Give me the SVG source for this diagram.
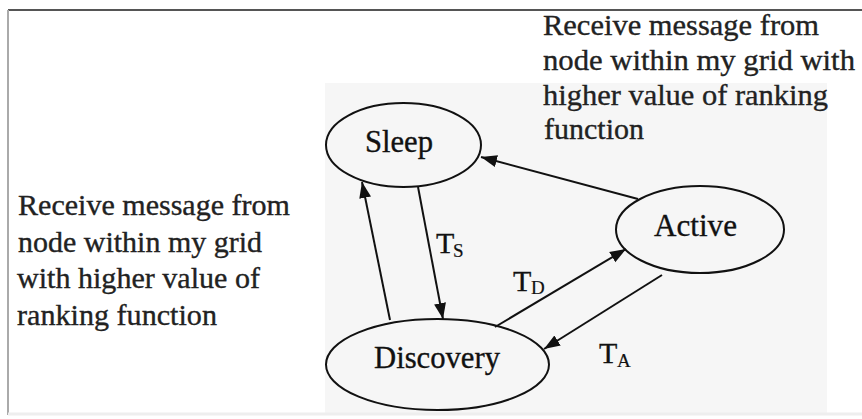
<svg xmlns="http://www.w3.org/2000/svg" width="862" height="419" viewBox="0 0 862 419">
  <defs>
    <marker id="arrow" markerUnits="userSpaceOnUse" markerWidth="17" markerHeight="13" refX="16" refY="6.5" orient="auto">
      <path d="M0,0.5 L16,6.5 L0,12.5 z" fill="#111"/>
    </marker>
  </defs>
  <style>
    .node { fill: none; stroke: #111; stroke-width: 2; }
    .label { font-family: "Liberation Serif", "Times New Roman", serif; font-size: 31px; fill: #111; stroke: #111; stroke-width: 0.35; text-anchor: middle; }
    .note { font-family: "Liberation Serif", "Times New Roman", serif; font-size: 30px; fill: #222; stroke: #222; stroke-width: 0.35; }
    .t { font-family: "Liberation Serif", "Times New Roman", serif; font-size: 30px; fill: #111; stroke: #111; stroke-width: 0.3; }
    .sub { font-family: "Liberation Serif", "Times New Roman", serif; font-size: 19px; fill: #111; stroke: #111; stroke-width: 0.2; }
    .edge { stroke: #111; stroke-width: 2; fill: none; marker-end: url(#arrow); }
  </style>
  <rect x="0" y="0" width="862" height="419" fill="#ffffff"/>
  <rect x="325" y="83" width="502" height="330" fill="#f6f6f6"/>
  <line x1="8" y1="10" x2="862" y2="10" stroke="#555" stroke-width="2"/>
  <line x1="8" y1="10" x2="8" y2="415" stroke="#aaa" stroke-width="2"/>
  <line x1="8" y1="414" x2="862" y2="414" stroke="#eeeeee" stroke-width="3"/>

  <g id="connectors">
    <line class="edge" x1="390" y1="320" x2="362" y2="182"/>
    <line class="edge" x1="418" y1="187" x2="443" y2="319"/>
    <line class="edge" x1="495" y1="327" x2="626" y2="249"/>
    <line class="edge" x1="662" y1="275" x2="544" y2="349"/>
    <line class="edge" x1="638" y1="199" x2="481" y2="157"/>
  </g>

  <g id="sleep">
    <ellipse class="node" cx="403.5" cy="145" rx="77.5" ry="42"/>
    <text class="label" x="399" y="152" textLength="68" lengthAdjust="spacingAndGlyphs">Sleep</text>
  </g>
  <g id="discovery">
    <ellipse class="node" cx="437.5" cy="364.5" rx="111.5" ry="45.5"/>
    <text class="label" x="437" y="368" textLength="126" lengthAdjust="spacingAndGlyphs">Discovery</text>
  </g>
  <g id="active">
    <ellipse class="node" cx="700" cy="229.5" rx="84" ry="43.5"/>
    <text class="label" x="695.5" y="236" textLength="83" lengthAdjust="spacingAndGlyphs">Active</text>
  </g>

  <g id="edge-labels">
    <text class="t" x="436" y="253">T</text><text class="sub" x="453" y="257">S</text>
    <text class="t" x="513" y="291">T</text><text class="sub" x="531" y="294">D</text>
    <text class="t" x="599" y="363">T</text><text class="sub" x="617" y="367">A</text>
  </g>

  <g id="note-left">
    <text class="note" x="18" y="215" textLength="272" lengthAdjust="spacingAndGlyphs">Receive message from</text>
    <text class="note" x="18" y="252" textLength="244" lengthAdjust="spacingAndGlyphs">node within my grid</text>
    <text class="note" x="17" y="288" textLength="243" lengthAdjust="spacingAndGlyphs">with higher value of</text>
    <text class="note" x="17" y="325" textLength="200" lengthAdjust="spacingAndGlyphs">ranking function</text>
  </g>
  <g id="note-right">
    <text class="note" x="543" y="35" textLength="276" lengthAdjust="spacingAndGlyphs">Receive message from</text>
    <text class="note" x="543" y="70" textLength="312" lengthAdjust="spacingAndGlyphs">node within my grid with</text>
    <text class="note" x="543" y="105" textLength="285" lengthAdjust="spacingAndGlyphs">higher value of ranking</text>
    <text class="note" x="544" y="139" textLength="100" lengthAdjust="spacingAndGlyphs">function</text>
  </g>
</svg>
